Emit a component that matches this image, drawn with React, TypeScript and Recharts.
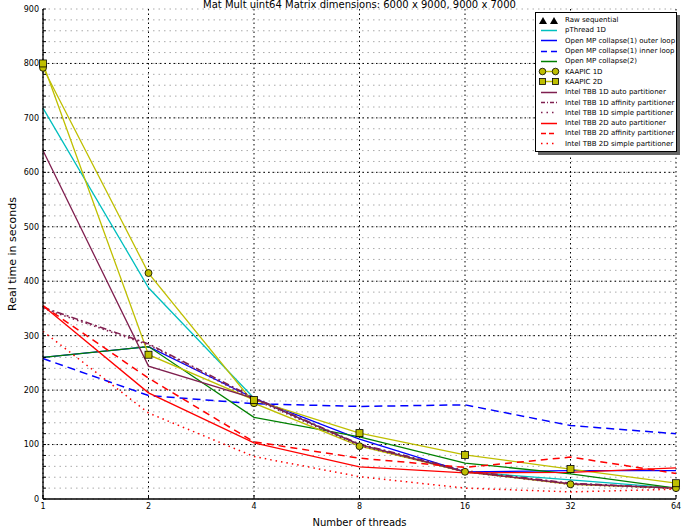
import React from "react";
import { LineChart, Line, XAxis, YAxis, CartesianGrid, ReferenceLine } from "recharts";

const threads = ["1", "2", "4", "8", "16", "32", "64"];

const rawSequential = [800, null, null, null, null, null, null];
const pthread1d = [718, 388, 185, 100, 50, 35, 20];
const ompOuter = [260, 280, 185, 110, 50, 52, 52];
const ompInner = [258, 190, 175, 170, 173, 135, 120];
const ompCollapse2 = [260, 280, 150, 114, 66, 46, 20];
const kaapic1d = [792, 415, 176, 97, 50, 27, 20];
const kaapic2d = [800, 265, 182, 121, 81, 55, 29];
const tbb1dAuto = [640, 244, 185, 100, 50, 28, 20];
const tbb1dAffinity = [352, 285, 186, 101, 52, 29, 20];
const tbb1dSimple = [350, 283, 183, 98, 50, 27, 19];
const tbb2dAuto = [355, 195, 103, 59, 48, 49, 57];
const tbb2dAffinity = [355, 222, 105, 75, 58, 77, 47];
const tbb2dSimple = [308, 158, 78, 41, 20, 13, 18];

const yMajor = [0, 100, 200, 300, 400, 500, 600, 700, 800, 900];
const yMinor = [
  20, 40, 60, 80, 120, 140, 160, 180, 220, 240, 260, 280, 320, 340, 360, 380,
  420, 440, 460, 480, 520, 540, 560, 580, 620, 640, 660, 680, 720, 740, 760, 780,
  820, 840, 860, 880,
];
const yAll = [...yMajor, ...yMinor].sort((a, b) => a - b);

const data = threads.map((t, i) => ({
  t,
  raw: rawSequential[i],
  pth: pthread1d[i],
  ompO: ompOuter[i],
  ompI: ompInner[i],
  omp2: ompCollapse2[i],
  k1: kaapic1d[i],
  k2: kaapic2d[i],
  t1a: tbb1dAuto[i],
  t1f: tbb1dAffinity[i],
  t1s: tbb1dSimple[i],
  t2a: tbb2dAuto[i],
  t2f: tbb2dAffinity[i],
  t2s: tbb2dSimple[i],
}));

const CYAN = "#00bfbf";
const BLUE = "#0000ff";
const GREEN = "#008000";
const OLIVE = "#bfbf00";
const MAROON = "#7f1f4f";
const RED = "#ff0000";
const FONT = "'DejaVu Sans', sans-serif";

const Circle = (p: any) =>
  p.cy == null ? null : (
    <circle key={p.index} cx={p.cx} cy={p.cy} r={3.5} fill={OLIVE} stroke="#000" strokeWidth={0.8} />
  );
const Square = (p: any) =>
  p.cy == null ? null : (
    <rect key={p.index} x={p.cx - 3.5} y={p.cy - 3.5} width={7} height={7} fill={OLIVE} stroke="#000" strokeWidth={0.8} />
  );
const Tri = (p: any) =>
  p.cy == null ? null : (
    <path key={p.index} d={`M${p.cx},${p.cy - 4}L${p.cx + 4},${p.cy + 3}L${p.cx - 4},${p.cy + 3}Z`} fill="#000" />
  );

const legendItems = [
  { name: "Raw sequential", kind: "tri" },
  { name: "pThread 1D", color: CYAN },
  { name: "Open MP collapse(1) outer loop", color: BLUE },
  { name: "Open MP collapse(1) inner loop", color: BLUE, dash: "6 4" },
  { name: "Open MP collapse(2)", color: GREEN },
  { name: "KAAPIC 1D", color: OLIVE, kind: "circle" },
  { name: "KAAPIC 2D", color: OLIVE, kind: "square" },
  { name: "Intel TBB 1D auto partitioner", color: MAROON },
  { name: "Intel TBB 1D affinity partitioner", color: MAROON, dash: "4 2 1 2" },
  { name: "Intel TBB 1D simple partitioner", color: MAROON, dash: "1.5 4" },
  { name: "Intel TBB 2D auto partitioner", color: RED },
  { name: "Intel TBB 2D affinity partitioner", color: RED, dash: "5 3" },
  { name: "Intel TBB 2D simple partitioner", color: RED, dash: "1.5 4" },
];

function Swatch({ item }: { item: any }) {
  if (item.kind === "tri") {
    return (
      <svg width={22} height={9}>
        <path d="M5,1L9,8L1,8Z" fill="#000" />
        <path d="M16,1L20,8L12,8Z" fill="#000" />
      </svg>
    );
  }
  return (
    <svg width={22} height={9}>
      <line x1={3} y1={4.5} x2={19} y2={4.5} stroke={item.color} strokeWidth={1.5} strokeDasharray={item.dash} />
      {item.kind === "circle" && (
        <>
          <circle cx={4.5} cy={4.5} r={3.3} fill={OLIVE} stroke="#000" strokeWidth={0.8} />
          <circle cx={17.5} cy={4.5} r={3.3} fill={OLIVE} stroke="#000" strokeWidth={0.8} />
        </>
      )}
      {item.kind === "square" && (
        <>
          <rect x={1.5} y={1.5} width={6} height={6} fill={OLIVE} stroke="#000" strokeWidth={0.8} />
          <rect x={14.5} y={1.5} width={6} height={6} fill={OLIVE} stroke="#000" strokeWidth={0.8} />
        </>
      )}
    </svg>
  );
}

export default function App() {
  return (
    <div style={{ position: "absolute", left: 0, top: 0, width: 682, height: 528, background: "#fff", overflow: "hidden", fontFamily: FONT }}>
      <div style={{ position: "absolute", left: 43, top: -1, width: 633, textAlign: "center", fontSize: 10, lineHeight: "11px", color: "#000" }}>
        Mat Mult uint64 Matrix dimensions: 6000 x 9000, 9000 x 7000
      </div>
      <LineChart width={682} height={528} data={data} margin={{ top: 9, right: 6, left: 0, bottom: 0 }}>
        <CartesianGrid stroke="#aaa" strokeDasharray="1.5 4" vertical={false} />
        <CartesianGrid stroke="#000" strokeDasharray="1.5 3" horizontal={false} />
        {yMajor.slice(1, -1).map((v) => (
          <ReferenceLine key={v} y={v} stroke="#000" strokeDasharray="1.5 3" />
        ))}
        <XAxis
          dataKey="t"
          height={29}
          tick={{ fontSize: 8, fill: "#000", fontFamily: FONT }}
          tickSize={-4}
          tickMargin={8}
          axisLine={{ stroke: "#000", strokeWidth: 1.3 }}
          tickLine={{ stroke: "#000" }}
          label={{ value: "Number of threads", position: "insideBottom", offset: 2, style: { fontSize: 10, fill: "#000", fontFamily: FONT } }}
        />
        <XAxis
          xAxisId="top"
          dataKey="t"
          orientation="top"
          height={0}
          tick={false}
          tickSize={-4}
          axisLine={{ stroke: "#000", strokeWidth: 1.3 }}
          tickLine={{ stroke: "#000" }}
        />
        <YAxis
          width={43}
          domain={[0, 900]}
          ticks={yAll}
          interval={0}
          tickFormatter={(v: number) => (yMajor.includes(v) ? String(v) : "")}
          tick={{ fontSize: 8, fill: "#000", fontFamily: FONT }}
          tickSize={-3}
          tickMargin={7}
          axisLine={{ stroke: "#000", strokeWidth: 1.3 }}
          tickLine={{ stroke: "#000" }}
          label={{ value: "Real time in seconds", angle: -90, position: "insideLeft", offset: 12, style: { textAnchor: "middle", fontSize: 11, fill: "#000", fontFamily: FONT } }}
        />
        <YAxis
          yAxisId="right"
          orientation="right"
          width={0}
          domain={[0, 900]}
          ticks={yAll}
          interval={0}
          tick={false}
          tickSize={-3}
          axisLine={{ stroke: "#000", strokeWidth: 1.3 }}
          tickLine={{ stroke: "#000" }}
        />
        <Line dataKey="raw" stroke="none" dot={Tri} isAnimationActive={false} />
        <Line dataKey="pth" stroke={CYAN} strokeWidth={1.3} dot={false} isAnimationActive={false} />
        <Line dataKey="ompO" stroke={BLUE} strokeWidth={1.3} dot={false} isAnimationActive={false} />
        <Line dataKey="ompI" stroke={BLUE} strokeWidth={1.5} strokeDasharray="8 5" dot={false} isAnimationActive={false} />
        <Line dataKey="omp2" stroke={GREEN} strokeWidth={1.3} dot={false} isAnimationActive={false} />
        <Line dataKey="k1" stroke={OLIVE} strokeWidth={1.3} dot={Circle} isAnimationActive={false} />
        <Line dataKey="k2" stroke={OLIVE} strokeWidth={1.3} dot={Square} isAnimationActive={false} />
        <Line dataKey="t1a" stroke={MAROON} strokeWidth={1.3} dot={false} isAnimationActive={false} />
        <Line dataKey="t1f" stroke={MAROON} strokeWidth={1.5} strokeDasharray="7 3 2 3" dot={false} isAnimationActive={false} />
        <Line dataKey="t1s" stroke={MAROON} strokeWidth={1.5} strokeDasharray="1.5 3" dot={false} isAnimationActive={false} />
        <Line dataKey="t2a" stroke={RED} strokeWidth={1.3} dot={false} isAnimationActive={false} />
        <Line dataKey="t2f" stroke={RED} strokeWidth={1.5} strokeDasharray="7 5" dot={false} isAnimationActive={false} />
        <Line dataKey="t2s" stroke={RED} strokeWidth={1.5} strokeDasharray="1.5 4" dot={false} isAnimationActive={false} />
      </LineChart>
      <div
        style={{
          position: "absolute",
          left: 535,
          top: 12,
          width: 138,
          padding: "2px 0 2px 2px",
          background: "#fff",
          border: "1px solid #000",
          boxShadow: "3px 3px 0 #666",
          fontSize: 7,
          color: "#000",
        }}
      >
        {legendItems.map((it) => (
          <div key={it.name} style={{ display: "flex", alignItems: "center", height: 10.3, whiteSpace: "nowrap" }}>
            <Swatch item={it} />
            <span style={{ marginLeft: 5 }}>{it.name}</span>
          </div>
        ))}
      </div>
    </div>
  );
}
